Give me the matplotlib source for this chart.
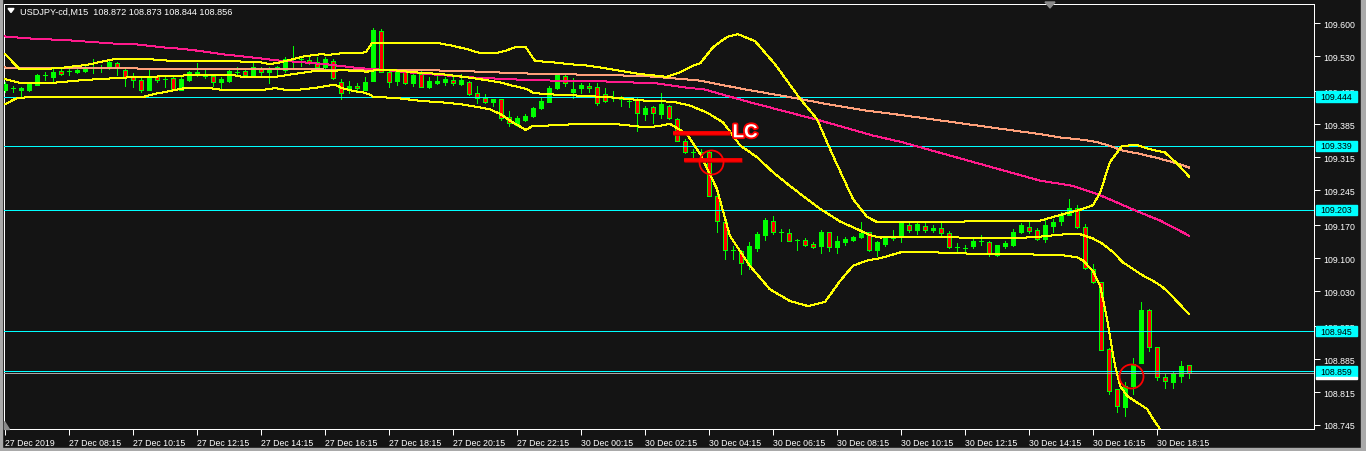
import matplotlib
matplotlib.use("Agg")
import matplotlib.pyplot as plt
from matplotlib.patches import Rectangle, Polygon
import matplotlib.patheffects as pe
import numpy as np

plt.rcParams['font.family'] = ['Liberation Sans', 'DejaVu Sans']

# ---------------- data ----------------
symbol = "USDJPY-cd"
timeframe = "M15"

opens = [109.457, 109.462, 109.459, 109.457, 109.469, 109.489, 109.485, 109.498, 109.498, 109.497,
         109.498, 109.505, 109.506, 109.504, 109.515, 109.501, 109.486, 109.480, 109.457, 109.487,
         109.481, 109.483, 109.459, 109.479, 109.492, 109.493, 109.487, 109.476, 109.478, 109.496,
         109.498, 109.487, 109.504, 109.497, 109.503, 109.501, 109.524, 109.524, 109.521, 109.518,
         109.506, 109.520, 109.476, 109.457, 109.466, 109.459, 109.478, 109.583, 109.497, 109.478,
         109.497, 109.473, 109.492, 109.464, 109.473, 109.474, 109.479, 109.471, 109.476, 109.452,
         109.442, 109.432, 109.439, 109.400, 109.384, 109.395, 109.402, 109.419, 109.433, 109.462,
         109.487, 109.454, 109.462, 109.466, 109.464, 109.449, 109.440, 109.439, 109.435, 109.439,
         109.407, 109.421, 109.407, 109.424, 109.396, 109.350, 109.327, 109.327, 109.325, 109.233,
         109.178, 109.118, 109.116, 109.086, 109.122, 109.150, 109.180, 109.156, 109.153, 109.139,
         109.139, 109.131, 109.125, 109.155, 109.124, 109.135, 109.139, 109.146, 109.155, 109.118,
         109.131, 109.144, 109.147, 109.171, 109.161, 109.169, 109.159, 109.164, 109.153, 109.123,
         109.122, 109.125, 109.137, 109.134, 109.107, 109.127, 109.129, 109.155, 109.167, 109.161,
         109.141, 109.169, 109.180, 109.192, 109.206, 109.166, 109.078, 109.049, 108.907, 108.821,
         108.784, 108.827, 108.877, 108.990, 108.910, 108.848, 108.837, 108.850, 108.872]
highs = [109.474, 109.467, 109.464, 109.472, 109.492, 109.496, 109.503, 109.503, 109.504, 109.506,
         109.510, 109.523, 109.512, 109.524, 109.517, 109.508, 109.494, 109.483, 109.501, 109.490,
         109.487, 109.485, 109.489, 109.499, 109.515, 109.501, 109.490, 109.485, 109.503, 109.506,
         109.503, 109.517, 109.508, 109.506, 109.510, 109.528, 109.551, 109.528, 109.528, 109.528,
         109.528, 109.525, 109.481, 109.478, 109.473, 109.485, 109.591, 109.588, 109.503, 109.503,
         109.501, 109.496, 109.499, 109.485, 109.489, 109.485, 109.485, 109.492, 109.478, 109.467,
         109.449, 109.439, 109.439, 109.414, 109.403, 109.407, 109.421, 109.440, 109.467, 109.490,
         109.490, 109.483, 109.473, 109.473, 109.473, 109.462, 109.456, 109.446, 109.440, 109.444,
         109.423, 109.423, 109.452, 109.426, 109.398, 109.354, 109.332, 109.333, 109.329, 109.234,
         109.180, 109.125, 109.118, 109.134, 109.155, 109.185, 109.190, 109.162, 109.162, 109.141,
         109.142, 109.134, 109.161, 109.156, 109.148, 109.146, 109.148, 109.176, 109.156, 109.137,
         109.146, 109.160, 109.180, 109.178, 109.178, 109.176, 109.171, 109.175, 109.157, 109.132,
         109.129, 109.141, 109.149, 109.136, 109.129, 109.137, 109.162, 109.175, 109.178, 109.164,
         109.185, 109.183, 109.198, 109.226, 109.213, 109.173, 109.088, 109.050, 108.908, 108.822,
         108.836, 108.887, 109.006, 108.991, 108.911, 108.853, 108.860, 108.882, 108.873]
lows = [109.454, 109.454, 109.446, 109.456, 109.469, 109.480, 109.478, 109.489, 109.490, 109.494,
        109.496, 109.494, 109.496, 109.503, 109.491, 109.467, 109.464, 109.454, 109.457, 109.474,
        109.464, 109.459, 109.457, 109.477, 109.487, 109.484, 109.467, 109.457, 109.476, 109.489,
        109.485, 109.485, 109.485, 109.472, 109.490, 109.496, 109.506, 109.510, 109.513, 109.506,
        109.505, 109.481, 109.439, 109.452, 109.457, 109.457, 109.478, 109.496, 109.464, 109.469,
        109.470, 109.467, 109.464, 109.462, 109.471, 109.469, 109.469, 109.469, 109.447, 109.430,
        109.430, 109.423, 109.395, 109.382, 109.382, 109.393, 109.400, 109.418, 109.432, 109.460,
        109.467, 109.442, 109.452, 109.453, 109.427, 109.433, 109.435, 109.423, 109.421, 109.371,
        109.394, 109.388, 109.398, 109.396, 109.349, 109.324, 109.315, 109.311, 109.232, 109.155,
        109.098, 109.098, 109.066, 109.077, 109.116, 109.139, 109.151, 109.137, 109.136, 109.118,
        109.127, 109.121, 109.111, 109.116, 109.112, 109.128, 109.137, 109.144, 109.116, 109.105,
        109.125, 109.138, 109.135, 109.155, 109.151, 109.156, 109.156, 109.149, 109.122, 109.111,
        109.114, 109.122, 109.128, 109.105, 109.105, 109.122, 109.125, 109.154, 109.153, 109.139,
        109.134, 109.156, 109.171, 109.191, 109.164, 109.078, 109.048, 108.904, 108.811, 108.772,
        108.765, 108.811, 108.876, 108.903, 108.841, 108.823, 108.823, 108.837, 108.844]
closes = [109.471, 109.462, 109.462, 109.471, 109.490, 109.489, 109.497, 109.493, 109.498, 109.501,
          109.503, 109.505, 109.506, 109.518, 109.504, 109.485, 109.479, 109.457, 109.483, 109.479,
          109.481, 109.460, 109.481, 109.496, 109.497, 109.487, 109.474, 109.481, 109.499, 109.496,
          109.489, 109.506, 109.497, 109.503, 109.506, 109.525, 109.524, 109.524, 109.517, 109.508,
          109.525, 109.483, 109.452, 109.466, 109.462, 109.474, 109.586, 109.497, 109.476, 109.496,
          109.472, 109.490, 109.465, 109.478, 109.478, 109.481, 109.472, 109.479, 109.449, 109.442,
          109.432, 109.439, 109.398, 109.388, 109.398, 109.403, 109.420, 109.435, 109.462, 109.489,
          109.472, 109.460, 109.469, 109.462, 109.430, 109.435, 109.440, 109.439, 109.435, 109.410,
          109.420, 109.410, 109.428, 109.398, 109.350, 109.325, 109.327, 109.326, 109.233, 109.180,
          109.118, 109.118, 109.090, 109.127, 109.151, 109.181, 109.155, 109.156, 109.137, 109.139,
          109.129, 109.123, 109.155, 109.123, 109.136, 109.141, 109.146, 109.153, 109.118, 109.135,
          109.144, 109.148, 109.174, 109.159, 109.173, 109.159, 109.164, 109.153, 109.123, 109.123,
          109.122, 109.136, 109.137, 109.112, 109.128, 109.132, 109.155, 109.171, 109.157, 109.141,
          109.171, 109.178, 109.193, 109.206, 109.166, 109.080, 109.049, 108.905, 108.818, 108.786,
          108.827, 108.875, 108.990, 108.910, 108.848, 108.839, 108.853, 108.871, 108.856]

time_label_bars = [0, 8, 16, 24, 32, 40, 48, 56, 64, 72, 80, 88, 96, 104, 112, 120, 128, 136, 144]
time_labels = ["27 Dec 2019", "27 Dec 08:15", "27 Dec 10:15", "27 Dec 12:15", "27 Dec 14:15",
               "27 Dec 16:15", "27 Dec 18:15", "27 Dec 20:15", "27 Dec 22:15", "30 Dec 00:15",
               "30 Dec 02:15", "30 Dec 04:15", "30 Dec 06:15", "30 Dec 08:15", "30 Dec 10:15",
               "30 Dec 12:15", "30 Dec 14:15", "30 Dec 16:15", "30 Dec 18:15"]
price_ticks = [109.600, 109.530, 109.455, 109.385, 109.315, 109.245, 109.170,
               109.100, 109.030, 108.955, 108.885, 108.815, 108.745]

level_prices = [109.444, 109.339, 109.203, 108.945, 108.859]
bid_price = 108.856

# Bollinger band (20) lines: (bar index, price)
bb_upper = [(0, 109.535), (1.6, 109.506), (1.9, 109.502), (4.4, 109.502), (7.5, 109.506), (10.4, 109.512),
            (12.25, 109.519), (13.5, 109.523), (18.5, 109.523), (21.5, 109.519), (28.5, 109.519),
            (31.6, 109.518), (33.1, 109.513), (34.4, 109.517), (36, 109.524), (37.5, 109.530),
            (39.4, 109.534), (40.6, 109.533), (41.9, 109.536), (45.1, 109.538), (45.9, 109.559),
            (50.6, 109.559), (54.4, 109.557), (56, 109.552), (57.75, 109.545), (59, 109.538),
            (61.25, 109.536), (62.5, 109.541), (63.75, 109.549), (65.1, 109.549), (66.25, 109.520),
            (68.5, 109.517), (70.6, 109.513), (72.75, 109.510), (74.4, 109.506), (76.9, 109.499),
            (79.4, 109.492), (82.75, 109.486), (84.4, 109.496), (86, 109.510), (86.9, 109.515),
            (88.5, 109.549), (90.25, 109.571), (91.6, 109.577), (93.75, 109.562), (96.25, 109.513),
            (99.4, 109.439), (101.5, 109.396), (103.5, 109.318), (106, 109.226), (107.75, 109.188),
            (109, 109.177), (119.4, 109.178), (129.4, 109.180), (131.9, 109.192), (134.4, 109.203),
            (136, 109.213), (136.9, 109.240), (138.1, 109.304), (139.6, 109.338), (141.25, 109.342),
            (143.1, 109.332), (145, 109.325), (146.6, 109.300), (148, 109.274)]
bb_middle = [(0, 109.481), (1.9, 109.473), (3.75, 109.473), (6.5, 109.474), (9.6, 109.479), (11.5, 109.481),
             (15.6, 109.485), (21.5, 109.488), (24.4, 109.491), (28.5, 109.490), (29.6, 109.486),
             (33.75, 109.486), (36.5, 109.493), (38.5, 109.498), (42.5, 109.500), (45.25, 109.497),
             (46.5, 109.501), (48.1, 109.501), (51, 109.496), (54.4, 109.492), (56.9, 109.487),
             (59.4, 109.481), (61.9, 109.474), (63.5, 109.467), (65.25, 109.460), (66, 109.452),
             (67.75, 109.449), (71.9, 109.446), (76, 109.442), (80.25, 109.435), (83.5, 109.433),
             (85.6, 109.425), (87.75, 109.410), (89.75, 109.389), (91.9, 109.340), (94, 109.315),
             (96, 109.283), (98.1, 109.254), (100.25, 109.226), (101.9, 109.205), (104.4, 109.178),
             (106.5, 109.162), (108.1, 109.149), (109.4, 109.144), (113.5, 109.146), (119.4, 109.144),
             (126, 109.142), (129.4, 109.146), (132.5, 109.151), (134.4, 109.151), (136, 109.142),
             (137.25, 109.130), (138.5, 109.113), (139.75, 109.091), (141, 109.077), (142.25, 109.063),
             (143.5, 109.052), (144.75, 109.038), (146, 109.017), (148, 108.981)]
bb_lower = [(0, 109.428), (0.6, 109.433), (1.25, 109.439), (1.6, 109.441), (3.1, 109.443), (6.9, 109.444),
            (11.9, 109.444), (17.25, 109.443), (18.5, 109.449), (19.75, 109.453), (21.25, 109.458),
            (22.5, 109.462), (25.6, 109.462), (26.9, 109.459), (32.5, 109.459), (33.75, 109.462),
            (35.6, 109.457), (37.5, 109.460), (39.4, 109.464), (41, 109.469), (41.6, 109.467),
            (42.1, 109.462), (43.5, 109.456), (44.75, 109.453), (45.6, 109.448), (46, 109.444),
            (46.9, 109.443), (49.4, 109.440), (51.9, 109.435), (54.4, 109.432), (56.9, 109.428),
            (59.4, 109.421), (60.6, 109.417), (61.9, 109.407), (63.5, 109.389), (65.1, 109.373),
            (66, 109.382), (70.25, 109.383), (70.6, 109.386), (76, 109.386), (79.4, 109.380),
            (80.6, 109.379), (82.25, 109.383), (83.1, 109.386), (84, 109.377), (85.25, 109.364),
            (86.9, 109.322), (89, 109.247), (90.6, 109.148), (93.1, 109.084), (95.6, 109.034),
            (98.1, 109.009), (100.4, 108.998), (102.5, 109.007), (104.4, 109.052), (106, 109.084),
            (107.75, 109.095), (109.4, 109.100), (112.25, 109.114), (115.25, 109.113), (121.9, 109.109),
            (128.1, 109.108), (131.9, 109.107), (134, 109.102), (134.75, 109.095), (136, 109.073),
            (136.9, 109.041), (137.75, 108.971), (138.1, 108.935), (138.75, 108.871), (139.4, 108.828),
            (140.25, 108.807), (141.5, 108.793), (142.75, 108.779), (143.5, 108.758), (144.4, 108.736)]
ma_pink = [(0, 109.572), (2.75, 109.568), (7.75, 109.564), (13.5, 109.557), (16.5, 109.555), (19.6, 109.549),
           (22.5, 109.545), (24.4, 109.541), (27.25, 109.534), (30.6, 109.528), (34, 109.521),
           (37.25, 109.517), (40.6, 109.512), (44, 109.505), (47.25, 109.501), (51.5, 109.494),
           (58.1, 109.485), (65.6, 109.479), (75.6, 109.476), (81.5, 109.472), (85.6, 109.462),
           (87.25, 109.460), (93.1, 109.432), (101.9, 109.393), (108.5, 109.361), (111.9, 109.348),
           (129.4, 109.265), (133.5, 109.254), (136.9, 109.234), (141.5, 109.200), (144.4, 109.180),
           (148, 109.148)]
ma_salmon = [(0, 109.506), (0.6, 109.504), (16.5, 109.504), (16.9, 109.502), (35.6, 109.502), (48.1, 109.501),
             (56.5, 109.499), (60.6, 109.496), (65.6, 109.493), (71.5, 109.491), (79.75, 109.488),
             (82.75, 109.484), (86.9, 109.478), (92.25, 109.460), (97.75, 109.444), (102.75, 109.428),
             (107.75, 109.414), (111.9, 109.405), (129.4, 109.364), (131.9, 109.357), (134.75, 109.352),
             (136.5, 109.347), (137.75, 109.341), (139.75, 109.329), (141.9, 109.322), (144.1, 109.313),
             (146.5, 109.302), (148, 109.293)]

# hand-drawn annotations (bar index span, price)
lc_line = (83.5, 90.6, 109.367)
entry_line = (84.9, 92.1, 109.309)
circles = [(88.25, 109.304), (140.75, 108.850)]
lc_text = "LC"

# ---------------- style / layout ----------------
W, H, DPI = 1366, 452, 100
BG = "#141414"
LIME = "#00ff00"
RED = "#ff0000"
YEL = "#ffff00"
PINK = "#ff1a8c"
SALMON = "#ffa07a"
CYAN = "#00ffff"
PX = 72.0 / DPI  # one pixel in points

FL, FR, FT, FB = 4, 1314, 4.5, 430     # frame in pixels
BAR0_X, BAR_STEP = 5, 8                # pixel of first bar, pixels per bar
Y_REF, P_REF, PX_PER_UNIT = 24.3, 109.600, 469.8


def px_to_price(y):
    return P_REF - (y - Y_REF) / PX_PER_UNIT


fig = plt.figure(figsize=(W / DPI, H / DPI), dpi=DPI, facecolor=BG)
ax = fig.add_axes([FL / W, 1 - FB / H, (FR - FL) / W, (FB - FT) / H])
ax.set_facecolor(BG)
ax.set_xlim((FL - BAR0_X) / BAR_STEP, (FR - BAR0_X) / BAR_STEP)
ax.set_ylim(px_to_price(FB), px_to_price(FT))

o = np.array(opens); h = np.array(highs); l = np.array(lows); c = np.array(closes)
idx = np.arange(len(o))
BODY_W = 0.6
up = c > o
dn = c < o
fl = c == o

ax.vlines(idx, l, h, color=LIME, lw=PX, zorder=2, antialiased=False)
ax.bar(idx[up], (c - o)[up], bottom=o[up], width=BODY_W, color=LIME, edgecolor=LIME,
       lw=PX, zorder=3, antialiased=False)
ax.bar(idx[dn], (o - c)[dn], bottom=c[dn], width=BODY_W, color=RED, edgecolor=LIME,
       lw=PX, zorder=3, antialiased=False)
ax.hlines(o[fl], idx[fl] - BODY_W / 2, idx[fl] + BODY_W / 2, color=LIME, lw=PX, zorder=3,
          antialiased=False)

# horizontal levels
for lv in level_prices:
    ax.axhline(lv, color=CYAN, lw=PX, zorder=4)
ax.axhline(bid_price, color="#a8a8a8", lw=PX, zorder=4)

# indicator lines
for series, col in [(ma_salmon, SALMON), (ma_pink, PINK), (bb_upper, YEL), (bb_middle, YEL), (bb_lower, YEL)]:
    xs, ys = zip(*series)
    ax.plot(xs, ys, color=col, lw=PX, zorder=5, antialiased=False)

# annotations
for (x0, x1, pr) in [lc_line, entry_line]:
    ax.plot([x0, x1], [pr, pr], color=RED, lw=3.6 * PX, zorder=6, solid_capstyle='butt',
            path_effects=[pe.Stroke(linewidth=4.6 * PX, foreground="#b00000"), pe.Normal()])
for (cx, cy) in circles:
    ax.plot([cx], [cy], marker='o', ms=24 * PX, mfc='none', mec=RED, mew=1.8 * PX, zorder=6)
ax.text(lc_line[1] + 0.35, lc_line[2], lc_text, color='white', fontsize=13.5, fontweight='bold',
        ha='left', va='center', zorder=7,
        path_effects=[pe.withStroke(linewidth=2.6, foreground=RED)])

# frame
for s in ax.spines.values():
    s.set_color('white')
    s.set_linewidth(PX)

# axes ticks
ax.set_xticks(time_label_bars)
ax.set_xticklabels(time_labels)
for lab in ax.get_xticklabels():
    lab.set_horizontalalignment('left')
ax.tick_params(axis='x', colors='white', length=4, width=PX, labelsize=6.3, pad=2.5)
ax.yaxis.tick_right()
ax.set_yticks(price_ticks)
ax.set_yticklabels([f"{p:.3f}" for p in price_ticks])
ax.tick_params(axis='y', colors='white', length=4, width=PX, labelsize=6.3, pad=2.5)

# level labels on the price scale
box_h = 10.5 / PX_PER_UNIT
box_x0 = (1316 - FL) / (FR - FL)
box_w = 41 / (FR - FL)
tr = ax.get_yaxis_transform()
for lv in level_prices:
    ax.add_patch(Rectangle((box_x0, lv - box_h / 2), box_w, box_h, transform=tr, color=CYAN,
                           clip_on=False, zorder=8))
    ax.text((1320 - FL) / (FR - FL), lv, f"{lv:.3f}", transform=tr, color='black', fontsize=6.3,
            ha='left', va='center', clip_on=False, zorder=9)
ax.add_patch(Rectangle((box_x0, level_prices[-1] - box_h / 2 - 2.2 / PX_PER_UNIT), box_w, 2.2 / PX_PER_UNIT,
                       transform=tr, color='white', clip_on=False, zorder=8))

# title
fig.text(20 / W, 1 - 12 / H,
         f"{symbol},{timeframe}  {opens[-1]:.3f} {highs[-1]:.3f} {lows[-1]:.3f} {closes[-1]:.3f}",
         color='white', fontsize=6.6, ha='left', va='center')
fig.add_artist(Polygon([[8 / W, 1 - 9.5 / H], [14 / W, 1 - 9.5 / H], [11 / W, 1 - 13.5 / H]],
                       closed=True, color='white', transform=fig.transFigure))
# chart shift marker
fig.add_artist(Polygon([[1045 / W, 1 - 3 / H], [1055 / W, 1 - 3 / H], [1050 / W, 1 - 9 / H]],
                       closed=True, color='#8a8a8a', transform=fig.transFigure))
fig.add_artist(Polygon([[FL / W, 1 - 422 / H], [FL / W, 1 - 430 / H], [9 / W, 1 - 430 / H]],
                       closed=True, color='#8a8a8a', transform=fig.transFigure))

# window border strips
fig.add_artist(Rectangle((1361 / W, 0), 5 / W, 1, transform=fig.transFigure, color='#a9a9a9'))
fig.add_artist(Rectangle((0, 0), 1, 3 / H, transform=fig.transFigure, color='#a9a9a9'))
fig.add_artist(Rectangle((0, 0), 1.5 / W, 1, transform=fig.transFigure, color='#a9a9a9'))

fig.savefig("out.png", dpi=DPI, facecolor=BG)
